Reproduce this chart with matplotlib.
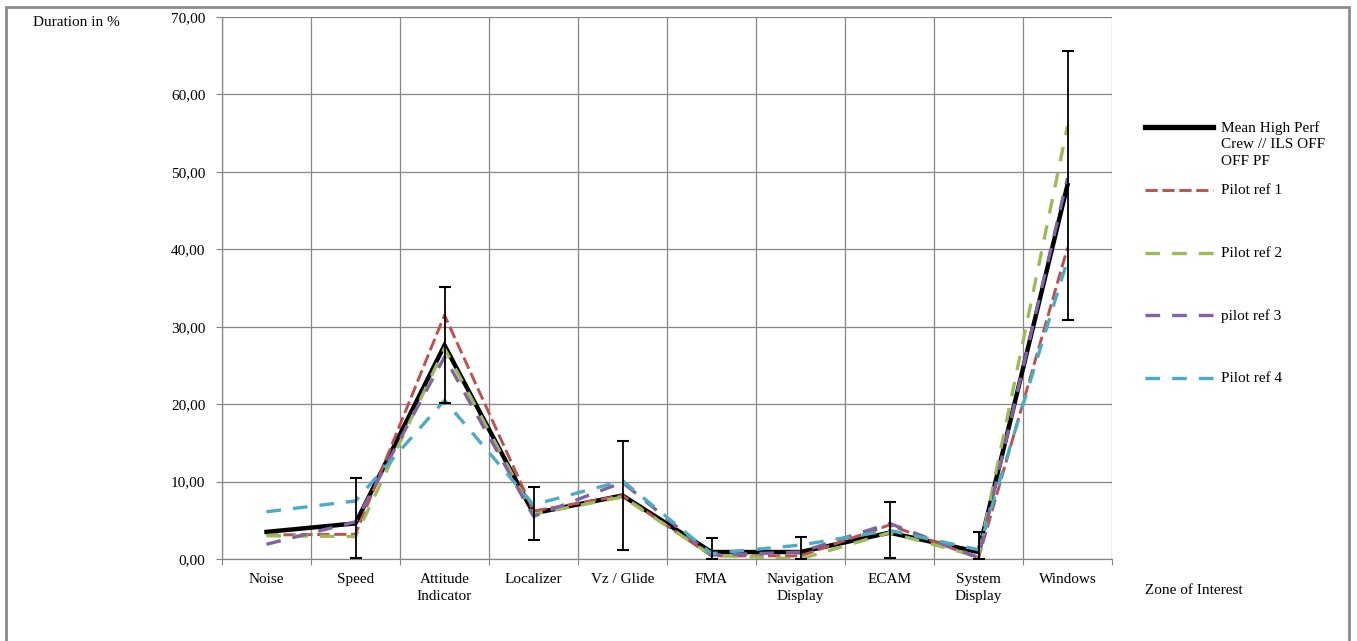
import numpy as np
import matplotlib
matplotlib.use("Agg")
import matplotlib.pyplot as plt
from matplotlib.lines import Line2D
from matplotlib.patches import Rectangle

# zones of interest (x categories)
zones = ["Noise", "Speed", "Attitude\nIndicator", "Localizer", "Vz / Glide", "FMA",
         "Navigation\nDisplay", "ECAM", "System\nDisplay", "Windows"]

# mean of high perf crew and its error bar ends
mean_high = [3.5, 4.6, 27.6, 5.9, 8.2, 0.9, 0.9, 3.4, 0.9, 48.3]
err_top = [3.5, 10.5, 35.1, 9.3, 15.3, 2.7, 2.9, 7.3, 3.5, 65.6]
err_bottom = [3.5, 0.1, 20.2, 2.4, 1.2, 0.0, 0.0, 0.1, 0.0, 30.9]

pilot_ref1 = [3.1, 3.2, 31.5, 6.2, 8.2, 0.4, 0.4, 4.4, 0.1, 40.2]
pilot_ref2 = [3.0, 2.9, 27.2, 5.8, 8.0, 0.5, 0.0, 3.4, 0.3, 55.9]
pilot_ref3 = [1.9, 4.8, 26.1, 5.5, 9.9, 0.5, 0.9, 4.6, 0.2, 49.2]
pilot_ref4 = [6.1, 7.5, 20.5, 7.0, 10.1, 0.7, 1.8, 3.7, 1.2, 38.6]

labels = ["Mean High Perf\nCrew // ILS OFF\nOFF PF", "Pilot ref 1", "Pilot ref 2",
          "pilot ref 3", "Pilot ref 4"]
yticks = np.arange(0, 71, 10)

plt.rcParams['font.family'] = ['Liberation Serif', 'DejaVu Serif']
plt.rcParams['font.size'] = 11

W, H = 1357, 641
fig = plt.figure(figsize=(W / 100, H / 100), dpi=100)
ax = fig.add_axes([222 / W, 1 - 559 / H, (1112 - 222) / W, (559 - 17) / H])

x = np.arange(1, len(zones) + 1)
grey = '#868686'

styles = [
    dict(color='black', lw=3.2, ls='-'),
    dict(color='#C0504D', lw=2.1, ls=(0, (4.2, 1.6))),
    dict(color='#9BBB59', lw=2.4, ls=(0, (4.4, 3.6))),
    dict(color='#8064A2', lw=2.4, ls=(0, (4.4, 3.6))),
    dict(color='#4BACC6', lw=2.4, ls=(0, (4.4, 3.6))),
]
series = [mean_high, pilot_ref1, pilot_ref2, pilot_ref3, pilot_ref4]

for vals, st in zip(series, styles):
    ax.plot(x, vals, color=st['color'], lw=st['lw'], linestyle=st['ls'],
            solid_joinstyle='miter', zorder=3)

m = np.array(mean_high)
lower = m - np.array(err_bottom)
upper = np.array(err_top) - m
# no bar drawn for Noise
ax.errorbar(x[1:], m[1:], yerr=[lower[1:], upper[1:]], fmt='none', ecolor='black',
            elinewidth=1.3, capsize=4, capthick=1.5, zorder=5)

ax.set_xlim(0.5, len(zones) + 0.5)
ax.set_ylim(0, 70)
ax.set_yticks(yticks)
ax.set_yticklabels([f"{v:.2f}".replace('.', ',') for v in yticks])
ax.set_xticks(np.arange(0.5, len(zones) + 1))
ax.set_xticklabels([])
ax.set_xticks(x, minor=True)
ax.set_xticklabels(zones, minor=True, linespacing=1.45)
ax.tick_params(axis='x', which='minor', length=0, pad=10)
ax.tick_params(axis='x', which='major', length=4, color=grey, width=0.8)
ax.tick_params(axis='y', length=4, color=grey, width=0.8, pad=8)

ax.grid(True, which='major', color=grey, lw=0.9, zorder=0)
ax.set_axisbelow(True)
for s in ['top', 'right']:
    ax.spines[s].set_visible(False)
for s in ['left', 'bottom']:
    ax.spines[s].set_color(grey)
    ax.spines[s].set_linewidth(0.9)

fig.text(33 / W, 1 - 23 / H, "Duration in %", ha='left', va='center')
fig.text(1145 / W, 1 - 590 / H, "Zone of Interest", ha='left', va='center')

# legend drawn by hand so the handle sits on the first text line
leg_y = [127, 190, 253, 315, 378]
for yy, st, lab in zip(leg_y, styles, labels):
    fig.add_artist(Line2D([1145 / W, 1213 / W], [1 - yy / H, 1 - yy / H],
                          color=st['color'], lw=st['lw'] + (0.6 if st['ls'] == '-' else 0),
                          linestyle=st['ls'], transform=fig.transFigure))
    fig.text(1221 / W, 1 - (yy - 6) / H, lab, ha='left', va='top', linespacing=1.35)

fig.add_artist(Rectangle((6 / W, -0.05), (1349 - 6) / W, 1.05 - 7 / H,
                         transform=fig.transFigure, fill=False, ec='#8c8c8c', lw=2))

fig.savefig("out.png", dpi=100)
